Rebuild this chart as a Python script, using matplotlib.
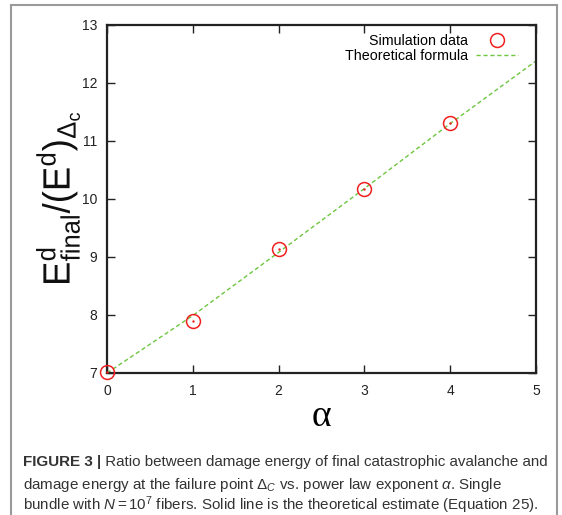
import matplotlib
matplotlib.use('Agg')
import matplotlib.pyplot as plt
from matplotlib.patches import Rectangle, PathPatch
from matplotlib.textpath import TextPath
from matplotlib.font_manager import FontProperties
from matplotlib.transforms import Affine2D

plt.rcParams['font.family'] = ['Liberation Sans', 'DejaVu Sans']
plt.rcParams['mathtext.fontset'] = 'custom'
plt.rcParams['mathtext.rm'] = 'Liberation Sans'
plt.rcParams['mathtext.it'] = 'Liberation Sans:italic'
plt.rcParams['mathtext.bf'] = 'Liberation Sans:bold'

# simulation results: ratio of final avalanche energy to energy at failure point
alpha_sim = [0, 1, 2, 3, 4]
ratio_sim = [7.02, 7.90, 9.14, 10.17, 11.31]

# theoretical estimate (Eq. 25)
alpha_theory = [0, 1, 2, 3, 4, 5]
ratio_theory = [7.00, 7.99, 9.08, 10.18, 11.30, 12.38]

xticks = [0, 1, 2, 3, 4, 5]
yticks = [7, 8, 9, 10, 11, 12, 13]

W, H = 562, 515
fig = plt.figure(figsize=(W / 100, H / 100), dpi=100)

# page frame around figure + caption
fig.add_artist(Rectangle((11 / W, -0.1), (557 - 11) / W, 1.1 - 5 / H,
                         transform=fig.transFigure, fill=False,
                         edgecolor='#9a9a9a', linewidth=1.5))

ax = fig.add_axes([107 / W, 1 - 373 / H, (536 - 107) / W, (373 - 25) / H])

ax.plot(alpha_theory, ratio_theory, linestyle=(0, (3, 2)), color='#6cc63f',
        linewidth=1.0, label='Theoretical formula', zorder=2)
ax.plot(alpha_sim, ratio_sim, linestyle='none', marker='o', markersize=10,
        markerfacecolor='none', markeredgecolor='#f02020', markeredgewidth=1.1,
        label='Simulation data', zorder=3, clip_on=False)
ax.plot(alpha_sim, ratio_sim, linestyle='none', marker='.', markersize=1.5,
        color='#f02020', zorder=3, clip_on=False)

ax.set_xlim(0, 5)
ax.set_ylim(7, 13)
ax.set_xticks(xticks)
ax.set_yticks(yticks)
ax.tick_params(direction='in', length=6, width=1, top=True, right=True,
               labelsize=10, colors='#222222')
ax.tick_params(axis='x', pad=8)
ax.tick_params(axis='y', pad=7)
for s in ax.spines.values():
    s.set_linewidth(1.6)
    s.set_color('#222222')

ax.set_xlabel('α', family='Liberation Serif', fontsize=27, labelpad=1)

# y label drawn as a stretched text path (wide glyphs along the axis)
ylab = TextPath((0, 0), r'$\mathregular{E^d_{final}/(E^d)_{\Delta_c}}$',
                size=20, prop=FontProperties(family='Liberation Sans'))
ext = ylab.get_extents()
along, across = 170.0, 44.0
tr = (Affine2D().translate(-ext.x0, -ext.y0)
      .scale(along / ext.width, across / ext.height)
      .rotate_deg(90)
      .translate(80, H - 283))
fig.add_artist(PathPatch(ylab, transform=tr, facecolor='#111111',
                         edgecolor='none'))

h, l = ax.get_legend_handles_labels()
ax.legend(h[::-1], l[::-1], loc='upper right', frameon=False, fontsize=10.3,
          markerfirst=False, handlelength=3.0, handletextpad=0.55,
          labelspacing=0.1, borderaxespad=0.2,
          bbox_to_anchor=(1 - 9 / 429, 1.0))

# caption
cap_kw = dict(fontsize=10.9, color='#333333')
t1 = fig.text(23 / W, 1 - 462 / H, 'FIGURE 3 |', fontweight='bold',
              va='center', **cap_kw)
ax.annotate(' Ratio between damage energy of final catastrophic avalanche and',
            xy=(1, 0), xycoords=t1, va='bottom', ha='left',
            annotation_clip=False, **cap_kw)
fig.text(23 / W, 1 - 485 / H,
         r'damage energy at the failure point $\Delta_C$ vs. power law exponent $\alpha$. Single',
         va='center', **cap_kw)
fig.text(23 / W, 1 - 505 / H,
         r'bundle with $N = 10^7$ fibers. Solid line is the theoretical estimate (Equation 25).',
         va='center', **cap_kw)

fig.savefig('out.png', dpi=100)
